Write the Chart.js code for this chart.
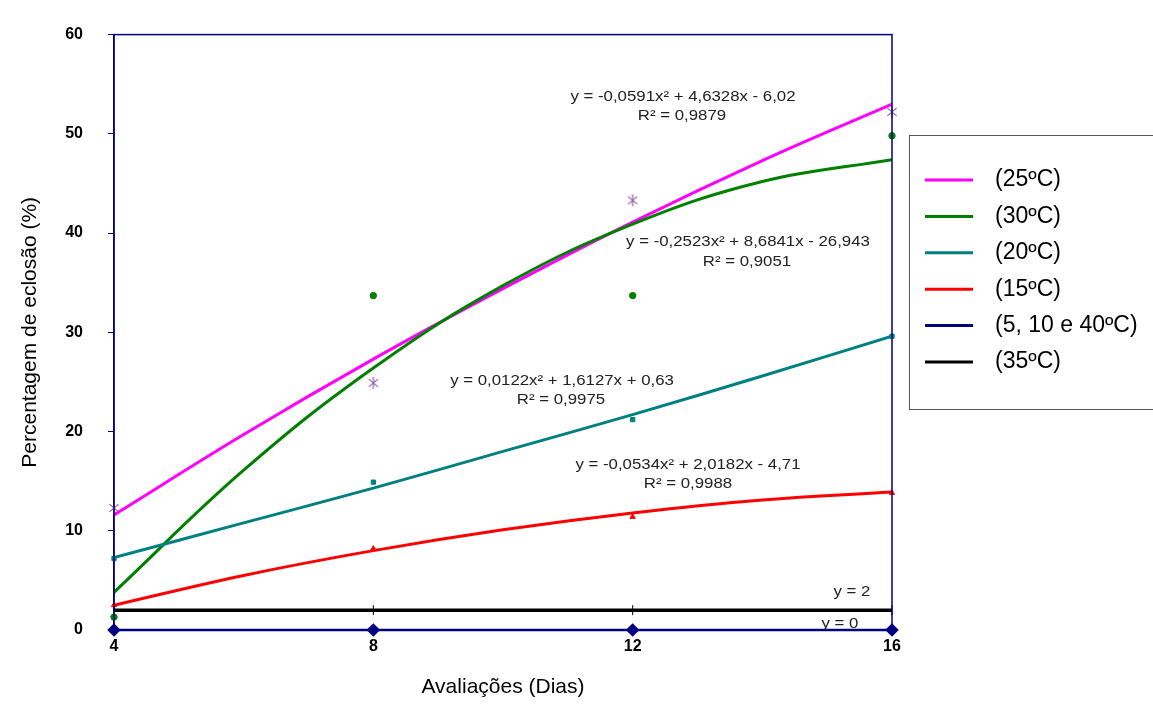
<!DOCTYPE html>
<html>
<head>
<meta charset="utf-8">
<script src="https://cdn.jsdelivr.net/npm/chart.js@4.4.0/dist/chart.umd.min.js"></script>
<style>
  html, body { margin: 0; padding: 0; background: #fff; overflow: hidden; }
  #wrap { width: 1153px; height: 709px; }
</style>
</head>
<body>
<div id="wrap"><canvas id="chart" width="1153" height="709"></canvas></div>
<script>
// --- DATA ---
const days = [4, 8, 12, 16];
const obs25 = [12.3, 24.9, 43.3, 52.2];
const obs30 = [1.3, 33.7, 33.7, 49.8];
const obs20 = [7.2, 14.9, 21.2, 29.6];
const obs15 = [2.5, 8.2, 11.4, 13.8];
const obs5_10_40 = [0, 0, 0, 0];
const obs35 = [2, 2, 2, 2];

// trendline curves, values
const trendDays = [4, 6, 8, 10, 12, 14, 16];
const trend25 = [11.6, 19.7, 27.3, 34.4, 41.1, 47.3, 53.0];
const trend30 = [3.8, 16.1, 26.4, 34.7, 40.9, 45.2, 47.4];
const trend20 = [7.3, 10.8, 14.3, 18.0, 21.7, 25.6, 29.6];
const trend15 = [2.5, 5.5, 8.0, 10.1, 11.8, 13.1, 13.9];

const yTicks = [0, 10, 20, 30, 40, 50, 60];
const legendLabels = ['(25ºC)', '(30ºC)', '(20ºC)', '(15ºC)', '(5, 10 e 40ºC)', '(35ºC)'];
const equationTexts = [
  'y = -0,0591x² + 4,6328x - 6,02', 'R² = 0,9879',
  'y = -0,2523x² + 8,6841x - 26,943', 'R² = 0,9051',
  'y = 0,0122x² + 1,6127x + 0,63', 'R² = 0,9975',
  'y = -0,0534x² + 2,0182x - 4,71', 'R² = 0,9988',
  'y = 2', 'y = 0'
];

// --- STYLE / LAYOUT ---
const MAGENTA = '#ff00ff', GREEN = '#008000', TEAL = '#008080', RED = '#ff0000', NAVY = '#000080', BLACK = '#000000';
const PURPLE = '#8e5ba8';
const FONT = '"Liberation Sans", Arial, sans-serif';

// pixel anchors for the equation text (centre x, centre y)
const equationPos = [
  [683, 97], [682, 116],
  [748, 242], [747, 262],
  [562, 381], [561, 400],
  [688, 465], [688, 484],
  [852, 592], [840, 624]
];

// asterisk marker (vertical stroke + X) like the spreadsheet one
function makeAsterisk(size, color) {
  const c = document.createElement('canvas');
  c.width = size; c.height = size;
  const g = c.getContext('2d');
  const r = size / 2 - 1;
  g.strokeStyle = color;
  g.lineWidth = 1.2;
  g.translate(size / 2, size / 2);
  [90, 40, 140].forEach(deg => {
    const a = deg * Math.PI / 180;
    g.beginPath();
    g.moveTo(-Math.cos(a) * r, -Math.sin(a) * r);
    g.lineTo(Math.cos(a) * r, Math.sin(a) * r);
    g.stroke();
  });
  return c;
}

const pts = (xs, ys) => xs.map((x, i) => ({ x: x, y: ys[i] }));

function trendSet(label, color, ys, order) {
  return {
    label: label, data: pts(trendDays, ys), borderColor: color, backgroundColor: color,
    borderWidth: 3, pointRadius: 0, tension: 0.4, order: order,
    legendColor: color
  };
}
function markerSet(ys, style, color, radius, order) {
  return {
    data: pts(days, ys), showLine: false, pointStyle: style, pointRadius: radius,
    borderColor: color, backgroundColor: color, borderWidth: 1,
    clip: false, order: order
  };
}

const textPlugin = {
  id: 'equations',
  beforeDatasetsDraw(chart) {
    const ctx = chart.ctx;
    ctx.save();
    ctx.font = '14px ' + FONT;
    ctx.fillStyle = '#222';
    ctx.textAlign = 'center';
    ctx.textBaseline = 'middle';
    equationTexts.forEach((t, i) => {
      const p = equationPos[i];
      ctx.save();
      ctx.translate(p[0], p[1]);
      ctx.scale(1.2, 1);
      ctx.fillText(t, 0, 0);
      ctx.restore();
    });
    ctx.restore();
  },
  afterDatasetsDraw(chart) {
    // plot border
    const a = chart.chartArea, ctx = chart.ctx;
    ctx.save();
    ctx.strokeStyle = NAVY;
    ctx.lineWidth = 1.5;
    ctx.strokeRect(a.left, a.top, a.right - a.left, a.bottom - a.top);
    ctx.restore();
  },
  afterDraw(chart) {
    // legend box on the right
    const ctx = chart.ctx;
    ctx.save();
    ctx.strokeStyle = '#555';
    ctx.lineWidth = 1;
    ctx.strokeRect(909.5, 135.5, 260, 274);
    const entries = chart.data.datasets.filter(d => d.legendColor);
    ctx.font = '23px ' + FONT;
    ctx.textBaseline = 'middle';
    ctx.fillStyle = '#000';
    entries.forEach((d, i) => {
      const y = 180 + i * 36.4;
      ctx.strokeStyle = d.legendColor;
      ctx.lineWidth = 3;
      ctx.beginPath();
      ctx.moveTo(925, y);
      ctx.lineTo(973, y);
      ctx.stroke();
      ctx.fillText(d.label, 995, y);
    });
    ctx.restore();
  }
};

const datasets = [
  markerSet(obs25, makeAsterisk(14, PURPLE), PURPLE, 7, 0),
  markerSet(obs30, 'circle', GREEN, 3.2, 0),
  markerSet(obs20, 'rect', TEAL, 3, 0),
  markerSet(obs15, 'triangle', RED, 3, 0),
  trendSet(legendLabels[0], MAGENTA, trend25, 6),
  trendSet(legendLabels[1], GREEN, trend30, 5),
  trendSet(legendLabels[2], TEAL, trend20, 4),
  trendSet(legendLabels[3], RED, trend15, 3),
  {
    label: legendLabels[4], data: pts(days, obs5_10_40), borderColor: NAVY, backgroundColor: NAVY,
    borderWidth: 2.5, pointStyle: 'rectRot', pointRadius: 5, clip: false, order: 1, legendColor: NAVY
  },
  {
    label: legendLabels[5], data: pts(days, obs35), borderColor: BLACK, backgroundColor: BLACK,
    borderWidth: 3.5, pointStyle: 'line', pointRotation: 90, pointRadius: 5, pointBorderWidth: 1,
    clip: false, order: 2, legendColor: BLACK
  }
];

new Chart(document.getElementById('chart').getContext('2d'), {
  type: 'line',
  data: { datasets: datasets },
  plugins: [textPlugin],
  options: {
    responsive: false,
    animation: false,
    layout: { padding: { left: 0, top: 24, right: 261, bottom: 0 } },
    plugins: { legend: { display: false }, tooltip: { enabled: false } },
    elements: { line: { fill: false } },
    scales: {
      x: {
        type: 'linear', min: 4, max: 16,
        afterFit: s => { s.height = 79; },
        afterBuildTicks: s => { s.ticks = days.map(v => ({ value: v })); },
        border: { display: true, color: NAVY, width: 1.5 },
        grid: { drawOnChartArea: false, drawTicks: false },
        ticks: { color: '#000', font: { family: FONT, size: 16, weight: 'bold' }, padding: 7 },
        title: {
          display: true, text: 'Avaliações (Dias)', color: '#000',
          font: { family: FONT, size: 21 }, padding: { top: 0, bottom: 9 }
        }
      },
      y: {
        min: 0, max: 60,
        afterFit: s => { s.width = 114; },
        afterBuildTicks: s => { s.ticks = yTicks.map(v => ({ value: v })); },
        border: { display: true, color: NAVY, width: 1.5 },
        grid: { drawOnChartArea: false, drawTicks: true, tickLength: 6, color: NAVY },
        ticks: { color: '#000', font: { family: FONT, size: 16, weight: 'bold' }, padding: 25 },
        title: {
          display: true, text: 'Percentagem de eclosão (%)', color: '#000',
          font: { family: FONT, size: 21 }, padding: { top: 18, bottom: 0 }
        }
      }
    }
  }
});
</script>
</body>
</html>
